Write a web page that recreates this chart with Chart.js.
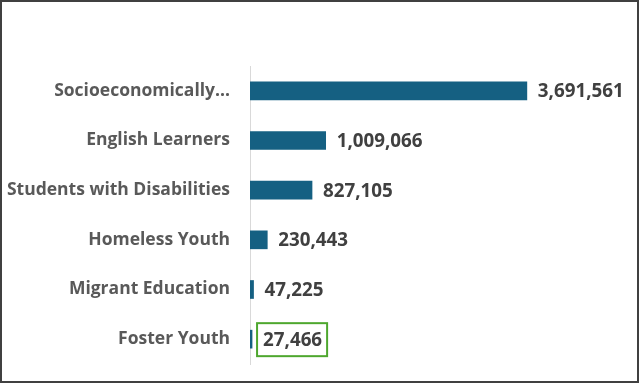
<!DOCTYPE html>
<html>
<head>
<meta charset="utf-8">
<script src="https://cdn.jsdelivr.net/npm/chart.js@4/dist/chart.umd.min.js"></script>
<style>
html,body{margin:0;padding:0;background:#fff;}
#wrap{width:640px;height:384px;position:relative;}
</style>
</head>
<body>
<div id="wrap"><canvas id="c" width="640" height="384"></canvas></div>
<script>
const categories = ["Socioeconomically...", "English Learners", "Students with Disabilities", "Homeless Youth", "Migrant Education", "Foster Youth"];
const values = [3691561, 1009066, 827105, 230443, 47225, 27466];
const highlightIndex = 5;

const fmt = v => v.toLocaleString('en-US');

const decor = {
  id: 'decor',
  beforeDraw(chart) {
    const ctx = chart.ctx;
    ctx.save();
    ctx.fillStyle = '#ffffff';
    ctx.fillRect(0, 0, chart.width, chart.height);
    ctx.restore();
  },
  afterDatasetsDraw(chart) {
    const ctx = chart.ctx;
    const meta = chart.getDatasetMeta(0);
    ctx.save();
    ctx.font = 'bold 18.8px "Open Sans"';
    ctx.fillStyle = '#404040';
    ctx.textBaseline = 'middle';
    ctx.textAlign = 'left';
    meta.data.forEach((bar, i) => {
      const txt = fmt(values[i]);
      const x = bar.x + 11;
      const y = bar.y + 1;
      ctx.fillText(txt, x, y);
      if (i === highlightIndex) {
        const w = ctx.measureText(txt).width;
        ctx.strokeStyle = '#4ea72e';
        ctx.lineWidth = 2;
        ctx.strokeRect(x - 6, bar.y - 16, w + 11, 33);
      }
    });
    ctx.restore();
  },
  afterDraw(chart) {
    const ctx = chart.ctx;
    ctx.save();
    ctx.strokeStyle = '#404040';
    ctx.lineWidth = 2;
    ctx.strokeRect(1, 1, chart.width - 3, chart.height - 3);
    ctx.restore();
  }
};

new Chart(document.getElementById('c'), {
  type: 'bar',
  data: {
    labels: categories,
    datasets: [{
      data: values,
      backgroundColor: '#156082',
      barThickness: 18
    }]
  },
  options: {
    indexAxis: 'y',
    responsive: false,
    animation: false,
    devicePixelRatio: 1,
    layout: { padding: { top: 66, bottom: 20, right: 90, left: 0 } },
    plugins: { legend: { display: false }, tooltip: { enabled: false } },
    scales: {
      x: {
        display: false,
        min: 0,
        max: 4000000
      },
      y: {
        afterFit(scale) { scale.width = 250; },
        grid: { display: true, drawOnChartArea: false, drawTicks: true, tickLength: 19, color: 'rgba(0,0,0,0)' },
        border: { display: true, color: '#d9d9d9', width: 1 },
        ticks: {
          padding: 1,
          color: '#595959',
          font: { family: '"Open Sans"', weight: 'bold', size: 17.5 }
        }
      }
    }
  },
  plugins: [decor]
});
</script>
</body>
</html>
